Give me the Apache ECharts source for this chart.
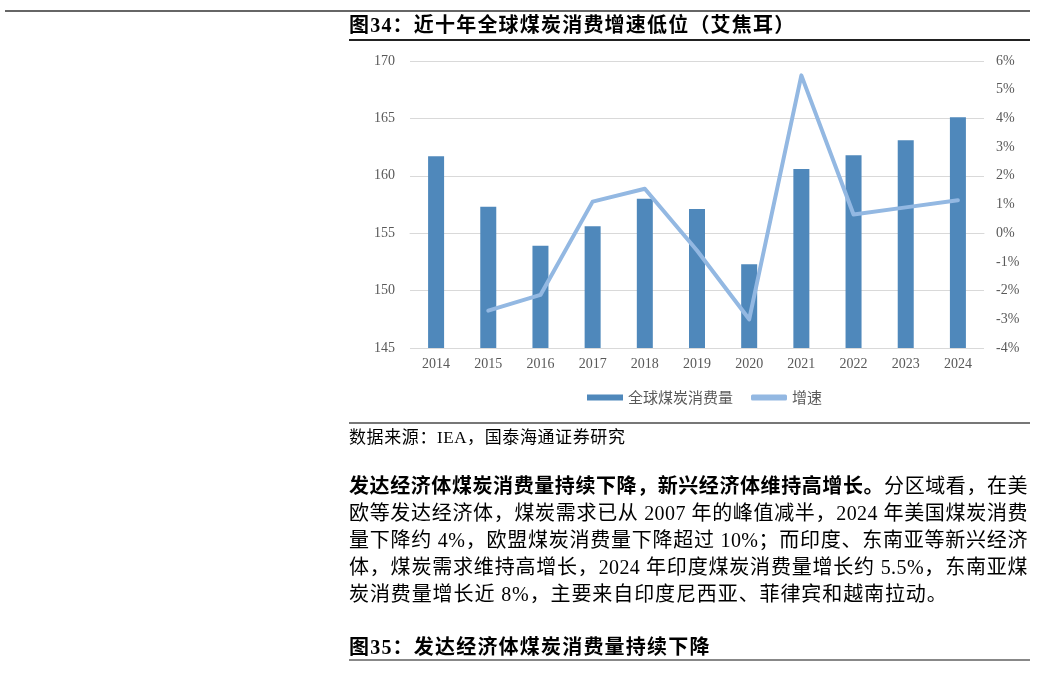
<!DOCTYPE html>
<html>
<head>
<meta charset="utf-8">
<script src="https://cdn.jsdelivr.net/npm/echarts@6/dist/echarts.min.js"></script>
<style>
  html, body { margin: 0; padding: 0; background: #fff; }
  #page { position: relative; width: 1037px; height: 673px; overflow: hidden; }
  #chart { position: absolute; left: 0; top: 0; width: 1037px; height: 673px; }
  .abs { position: absolute; z-index: 2; }
  .rule { position: absolute; z-index: 2; }
  .head { font-family: "Liberation Serif", "Noto Sans CJK SC", serif; font-weight: 700; font-size: 20px; line-height: 24px; color: #000; white-space: nowrap; letter-spacing: 1.2px; }
  .src { font-family: "Liberation Serif", "Noto Sans CJK SC", serif; font-size: 17px; line-height: 20px; color: #000; white-space: nowrap; letter-spacing: 0.6px; }
  #para { font-family: "Liberation Serif", "Noto Sans CJK SC", serif; font-size: 20px; line-height: 27px; color: #000; width: 679px; letter-spacing: 0.4px; }
  #para div { white-space: nowrap; text-align: justify; text-align-last: justify; }
  #para div.last { text-align-last: left; letter-spacing: 0.9px; }
  #para b { font-weight: 700; }
</style>
</head>
<body>
<div id="page">
  <div id="chart"></div>
  <div class="rule" style="left:5px;top:10px;width:1025px;height:2px;background:#666;"></div>
  <div class="abs head" style="left:349px;top:13px;">图34：近十年全球煤炭消费增速低位（艾焦耳）</div>
  <div class="rule" style="left:349px;top:39px;width:681px;height:1.5px;background:#222;"></div>
  <div class="rule" style="left:349px;top:422px;width:681px;height:2px;background:#777;"></div>
  <div class="abs src" style="left:349px;top:428px;">数据来源：IEA，国泰海通证券研究</div>
  <div class="abs" id="para" style="left:349px;top:473px;">
    <div><b>发达经济体煤炭消费量持续下降，新兴经济体维持高增长。</b>分区域看，在美</div>
    <div>欧等发达经济体，煤炭需求已从 2007 年的峰值减半，2024 年美国煤炭消费</div>
    <div>量下降约 4%，欧盟煤炭消费量下降超过 10%；而印度、东南亚等新兴经济</div>
    <div>体，煤炭需求维持高增长，2024 年印度煤炭消费量增长约 5.5%，东南亚煤</div>
    <div class="last">炭消费量增长近 8%，主要来自印度尼西亚、菲律宾和越南拉动。</div>
  </div>
  <div class="abs head" style="left:349px;top:635px;">图35：发达经济体煤炭消费量持续下降</div>
  <div class="rule" style="left:349px;top:659px;width:681px;height:2px;background:#888;"></div>
</div>
<script>
// 年份
var years = ['2014', '2015', '2016', '2017', '2018', '2019', '2020', '2021', '2022', '2023', '2024'];
// 全球煤炭消费量（艾焦耳）
var consumption = [161.7, 157.3, 153.9, 155.6, 158.0, 157.1, 152.3, 160.6, 161.8, 163.1, 165.1];
// 增速（%）
var growth = [null, -2.7, -2.15, 1.1, 1.55, -0.6, -3.0, 5.5, 0.65, 0.9, 1.15];

var myChart = echarts.init(document.getElementById('chart'));
var axisFont = { color: '#595959', fontSize: 14, fontFamily: 'Liberation Serif' };
option = {
	animation: false,
	legend: {
		left: 582,
		top: 385,
		itemWidth: 36,
		itemHeight: 6,
		itemGap: 18,
		textStyle: { color: '#595959', fontSize: 15, fontFamily: 'Noto Sans CJK SC' },
		data: [
			{ name: '全球煤炭消费量', icon: 'rect' },
			{ name: '增速', icon: 'roundRect' }
		]
	},
	grid: { left: 410, right: 53, top: 61, bottom: 325 },
	xAxis: {
		type: 'category',
		data: years,
		axisTick: { show: false },
		axisLine: { lineStyle: { color: '#d9d9d9', width: 1 } },
		axisLabel: Object.assign({ margin: 9 }, axisFont)
	},
	yAxis: [{
		type: 'value',
		min: 145,
		max: 170,
		interval: 5,
		axisLine: { show: false },
		axisTick: { show: false },
		splitLine: { lineStyle: { color: '#d9d9d9', width: 1 } },
		axisLabel: Object.assign({ margin: 15 }, axisFont)
	}, {
		type: 'value',
		min: -4,
		max: 6,
		interval: 1,
		axisLine: { show: false },
		axisTick: { show: false },
		splitLine: { show: false },
		axisLabel: Object.assign({ margin: 12, formatter: '{value}%' }, axisFont)
	}],
	series: [{
		name: '全球煤炭消费量',
		type: 'bar',
		data: consumption,
		barWidth: 16,
		itemStyle: { color: '#4f88bb' }
	}, {
		name: '增速',
		type: 'line',
		yAxisIndex: 1,
		data: growth,
		symbol: 'none',
		connectNulls: false,
		lineStyle: { color: '#93b8e2', width: 4, cap: 'round', join: 'round' },
		itemStyle: { color: '#93b8e2' }
	}]
};
myChart.setOption(option);
</script>
</body>
</html>
